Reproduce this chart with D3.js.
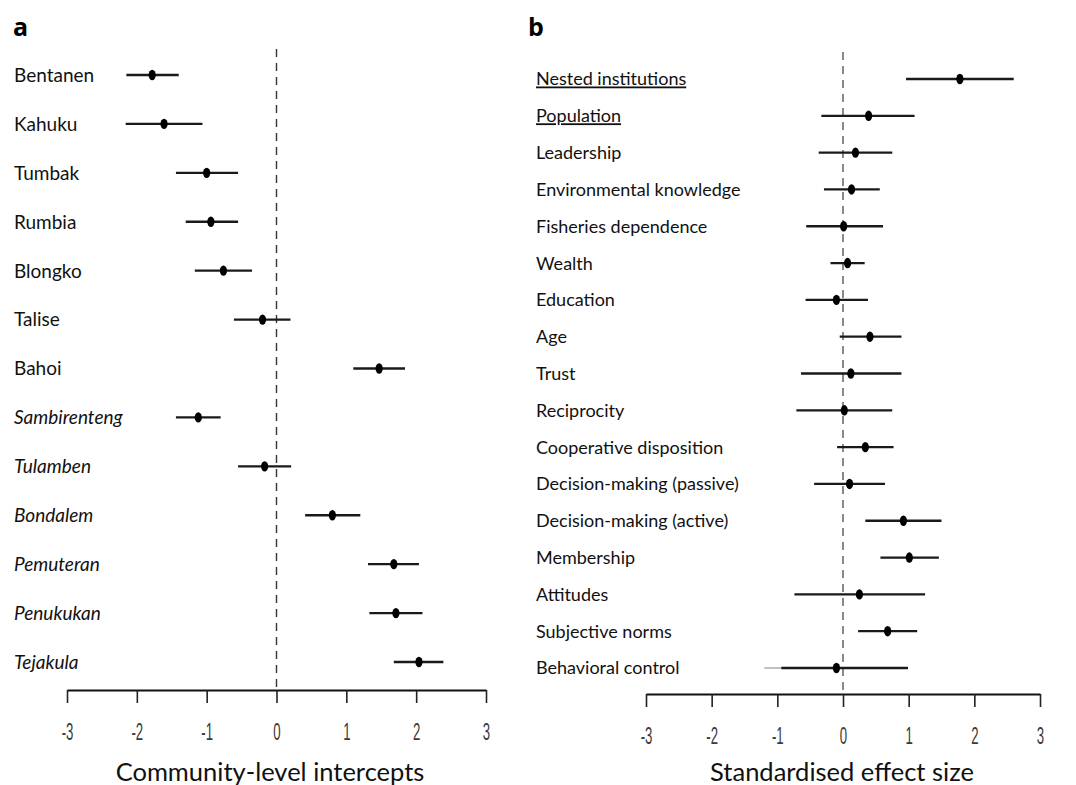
<!DOCTYPE html>
<html>
<head>
<meta charset="utf-8">
<script src="https://cdn.jsdelivr.net/npm/d3@7/dist/d3.min.js"></script>
<style>
  html, body { margin: 0; padding: 0; background: #fff; }
  svg { display: block; }
  .lab { font-family: Lato, "Open Sans", sans-serif; fill: #111; }
  .ttl { font-family: Lato, "Open Sans", sans-serif; font-size: 25.5px; fill: #111; }
  .pl  { font-family: "Open Sans", Lato, sans-serif; font-size: 25px; font-weight: 700; fill: #000; }
</style>
</head>
<body>
<svg id="chart" width="1076" height="785"></svg>
<script>
// Panel a: community-level random intercepts (estimate with interval)
const communities = ["Bentanen", "Kahuku", "Tumbak", "Rumbia", "Blongko", "Talise", "Bahoi",
  "Sambirenteng", "Tulamben", "Bondalem", "Pemuteran", "Penukukan", "Tejakula"];
const communityItalic = [false, false, false, false, false, false, false,
  true, true, true, true, true, true];
const communityEst  = [-1.78, -1.61, -1.00, -0.94, -0.76, -0.20, 1.47, -1.12, -0.17, 0.80, 1.68, 1.71, 2.04];
const communityLow  = [-2.15, -2.16, -1.44, -1.30, -1.17, -0.61, 1.10, -1.44, -0.55, 0.41, 1.31, 1.33, 1.68];
const communityHigh = [-1.40, -1.06, -0.55, -0.55, -0.35, 0.20, 1.84, -0.80, 0.21, 1.20, 2.04, 2.09, 2.39];

// Panel b: standardised effect sizes of predictors
const predictors = ["Nested institutions", "Population", "Leadership", "Environmental knowledge",
  "Fisheries dependence", "Wealth", "Education", "Age", "Trust", "Reciprocity",
  "Cooperative disposition", "Decision-making (passive)", "Decision-making (active)",
  "Membership", "Attitudes", "Subjective norms", "Behavioral control"];
const predictorUnderlined = ["Nested institutions", "Population"];
const effectEst  = [1.78, 0.39, 0.19, 0.13, 0.01, 0.07, -0.10, 0.41, 0.12, 0.02, 0.34, 0.10, 0.92, 1.01, 0.25, 0.68, -0.10];
const effectLow  = [0.96, -0.33, -0.37, -0.29, -0.56, -0.19, -0.57, -0.05, -0.64, -0.71, -0.09, -0.44, 0.34, 0.57, -0.74, 0.23, -0.94];
const effectHigh = [2.60, 1.09, 0.75, 0.56, 0.61, 0.33, 0.38, 0.89, 0.89, 0.75, 0.77, 0.64, 1.50, 1.46, 1.25, 1.13, 0.99];
// outer (thin) lower limit where it extends beyond the thick interval
const effectOuterLow = {"Behavioral control": -1.20};

const xTicks = [-3, -2, -1, 0, 1, 2, 3];

const svg = d3.select("#chart");

function forestPanel(cfg) {
  const g = svg.append("g");
  const x = d3.scaleLinear().domain([-3, 3]).range([cfg.x0, cfg.x1]);
  const y = d3.scalePoint().domain(cfg.names).range([cfg.yTop, cfg.yBottom]);

  // reference line at zero
  g.append("line")
    .attr("x1", x(0)).attr("x2", x(0))
    .attr("y1", cfg.refTop).attr("y2", cfg.axisY)
    .attr("stroke", cfg.refColor).attr("stroke-width", cfg.refWidth)
    .attr("stroke-dasharray", "8,6");

  // axis
  const ax = g.append("g")
    .attr("transform", `translate(0,${cfg.axisY})`)
    .call(d3.axisBottom(x).tickValues(xTicks).tickSize(13).tickSizeOuter(0).tickPadding(0)
      .tickFormat(d => d < 0 ? "-" + Math.abs(d) : String(d)));
  ax.attr("font-size", 24).attr("font-family", "'Liberation Sans', Arial, sans-serif");
  ax.select(".domain").attr("stroke", "#111").attr("stroke-width", 2);
  ax.selectAll(".tick line").attr("stroke", "#222").attr("stroke-width", 1.6);
  ax.selectAll(".tick text")
    .attr("y", 0).attr("dy", 0)
    .style("font-size", "24px")
    .style("font-family", "'Liberation Sans', Arial, sans-serif")
    .attr("fill", "#3a3a3a")
    .attr("transform", "translate(0,50) scale(0.55,1)");

  // row labels
  g.selectAll("text.lab").data(cfg.names).join("text")
    .attr("class", "lab")
    .attr("font-size", cfg.labelSize)
    .attr("x", cfg.labelX).attr("y", d => y(d)).attr("dy", "0.36em")
    .attr("font-style", (d, i) => cfg.italic && cfg.italic[i] ? "italic" : "normal")
    .attr("text-decoration", d => cfg.underlined && cfg.underlined.includes(d) ? "underline" : null)
    .text(d => d);

  // thin outer extensions
  if (cfg.outerLow) {
    Object.entries(cfg.outerLow).forEach(([name, v]) => {
      const i = cfg.names.indexOf(name);
      g.append("line")
        .attr("x1", x(v)).attr("x2", x(cfg.low[i]))
        .attr("y1", y(name)).attr("y2", y(name))
        .attr("stroke", "#999").attr("stroke-width", 1.2);
    });
  }

  // intervals
  g.selectAll("line.ci").data(cfg.names).join("line")
    .attr("class", "ci")
    .attr("x1", (d, i) => x(cfg.low[i])).attr("x2", (d, i) => x(cfg.high[i]))
    .attr("y1", d => y(d)).attr("y2", d => y(d))
    .attr("stroke", "#1a1a1a").attr("stroke-width", 2.3);

  // estimates
  g.selectAll("ellipse.est").data(cfg.names).join("ellipse")
    .attr("class", "est")
    .attr("cx", (d, i) => x(cfg.est[i])).attr("cy", d => y(d))
    .attr("rx", 3.6).attr("ry", 5.2)
    .attr("fill", "#000");

  // axis title
  g.append("text").attr("class", "ttl")
    .attr("x", cfg.titleX).attr("y", 781)
    .attr("text-anchor", "middle")
    .text(cfg.title);

  // panel letter
  g.append("text").attr("class", "pl")
    .attr("x", cfg.letterX).attr("y", 36)
    .text(cfg.letter);
}

forestPanel({
  names: communities, italic: communityItalic,
  est: communityEst, low: communityLow, high: communityHigh,
  x0: 67, x1: 486, yTop: 75, yBottom: 662,
  axisY: 690, refTop: 49, refColor: "#333", refWidth: 1.4,
  labelX: 14, labelSize: 19, title: "Community-level intercepts", titleX: 270,
  letter: "a", letterX: 13
});

forestPanel({
  names: predictors, underlined: predictorUnderlined,
  est: effectEst, low: effectLow, high: effectHigh, outerLow: effectOuterLow,
  x0: 646, x1: 1040, yTop: 79, yBottom: 668,
  axisY: 694, refTop: 52, refColor: "#888", refWidth: 2,
  labelX: 536, labelSize: 18, title: "Standardised effect size", titleX: 842,
  letter: "b", letterX: 528
});
</script>
</body>
</html>
